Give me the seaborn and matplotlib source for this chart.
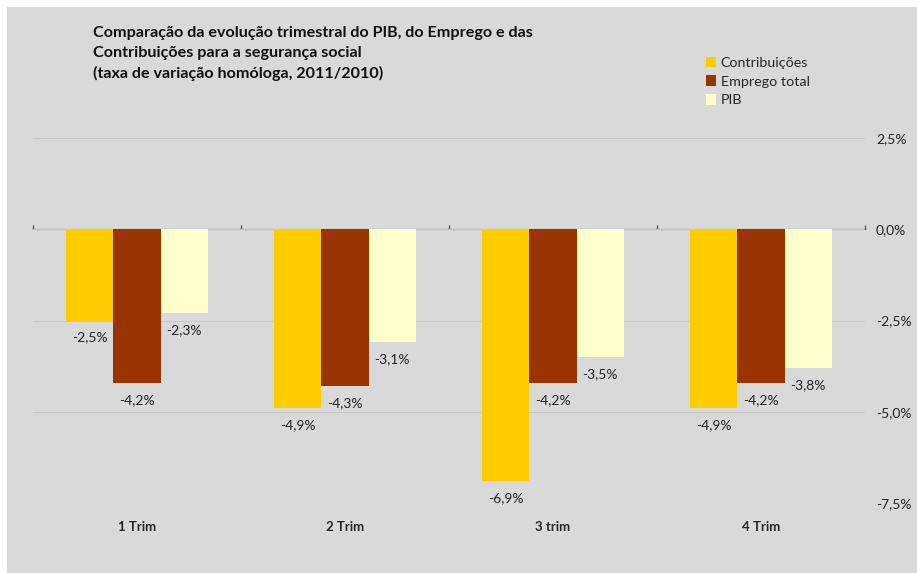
import numpy as np
import pandas as pd
import matplotlib
matplotlib.use("Agg")
import matplotlib.pyplot as plt
import seaborn as sns
from matplotlib.patches import Rectangle
from matplotlib.ticker import FuncFormatter, FixedLocator

# Data
trimestres = ["1 Trim", "2 Trim", "3 trim", "4 Trim"]
series = ["Contribuições", "Emprego total", "PIB"]
contribuicoes = [-2.5, -4.9, -6.9, -4.9]
emprego_total = [-4.2, -4.3, -4.2, -4.2]
pib = [-2.3, -3.1, -3.5, -3.8]
y_ticks = [2.5, 0.0, -2.5, -5.0, -7.5]

colors = ["#FFCC00", "#993300", "#FFFFCC"]
bg = "#D9D9D9"

df = pd.DataFrame({
    "trimestre": trimestres * 3,
    "serie": [s for s in series for _ in trimestres],
    "valor": contribuicoes + emprego_total + pib,
})

sns.set_style("white")
plt.rcParams["font.family"] = ["Lato", "DejaVu Sans"]

fig = plt.figure(figsize=(9.17, 5.73), dpi=100)
fig.patch.set_facecolor("white")
fig.patches.append(Rectangle((7 / 917, 0), 1, 1 - 7 / 573, transform=fig.transFigure,
                             facecolor=bg, edgecolor="none", zorder=-10))

ax = fig.add_axes([33 / 917, 1 - 503 / 573, (865 - 33) / 917, (503 - 138) / 573])
ax.set_facecolor(bg)

sns.barplot(data=df, x="trimestre", y="valor", hue="serie", order=trimestres,
            hue_order=series, palette=colors, saturation=1, width=0.68,
            linewidth=0, ax=ax, zorder=3)

for cont in ax.containers:
    ax.bar_label(cont, labels=[f"{v:.1f}%".replace(".", ",") for v in cont.datavalues],
                 padding=8, fontsize=10, color="#222222")

ax.set_ylim(-7.5, 2.5)
ax.set_xlim(-0.5, len(trimestres) - 0.5)
ax.yaxis.set_major_locator(FixedLocator(y_ticks))
ax.yaxis.set_major_formatter(FuncFormatter(lambda v, p: f"{v:.1f}%".replace(".", ",")))
ax.yaxis.tick_right()
ax.tick_params(axis="y", length=0, pad=8, labelsize=10, labelcolor="#222222")
ax.tick_params(axis="x", length=0, pad=13, labelsize=9.5)
for lab in ax.get_xticklabels():
    lab.set_fontweight("bold")
ax.grid(axis="y", color="#C8C8C8", linewidth=0.7, zorder=0)
ax.set_axisbelow(True)
ax.set_xlabel("")
ax.set_ylabel("")
for s in ax.spines.values():
    s.set_visible(False)

# zero axis with category boundary ticks
zero_frac = (0 - ax.get_ylim()[0]) / (ax.get_ylim()[1] - ax.get_ylim()[0])
sec = ax.secondary_xaxis(zero_frac)
sec.set_xticks(np.arange(len(trimestres) + 1) - 0.5)
sec.set_xticklabels([])
sec.tick_params(axis="x", direction="out", length=3, color="#595959", width=1)
sec.spines["bottom"].set_color("#595959")
sec.spines["bottom"].set_linewidth(1.5)

ax.legend(loc="upper left", bbox_to_anchor=(700 / 917, 1 - 51 / 573),
          bbox_transform=fig.transFigure, frameon=False, fontsize=10.3,
          handlelength=0.75, handleheight=0.75, handletextpad=0.3, labelspacing=0.45,
          borderaxespad=0)

fig.text(93 / 917, 1 - 26 / 573,
         "Comparação da evolução trimestral do PIB, do Emprego e das\n"
         "Contribuições para a segurança social\n"
         "(taxa de variação homóloga, 2011/2010)",
         fontsize=11.6, fontweight="bold", va="top", ha="left", linespacing=1.5,
         color="#111111")

fig.savefig("out.png", dpi=100, facecolor=fig.get_facecolor())
